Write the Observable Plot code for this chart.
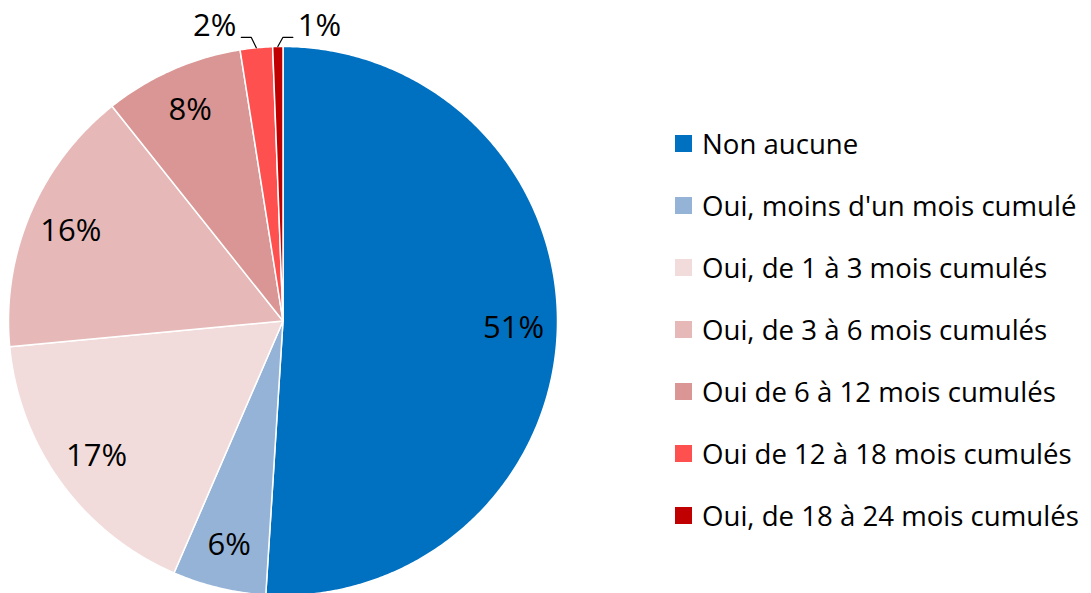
<!DOCTYPE html>
<html>
<head>
<meta charset="utf-8">
<script src="https://cdn.jsdelivr.net/npm/d3@7"></script>
<script src="https://cdn.jsdelivr.net/npm/@observablehq/plot@0.6"></script>
<style>
  html, body { margin: 0; padding: 0; background: #fff; overflow: hidden; }
  #wrap { position: relative; width: 1091px; height: 593px; }
  #legend { position: absolute; left: 675px; top: 112px; font-family: "Open Sans", sans-serif; font-size: 27.6px; color: #000; }
  #legend .row { display: flex; align-items: center; height: 62px; white-space: nowrap; }
  #legend .sw { width: 17px; height: 17px; margin-right: 10px; flex: none; }
</style>
</head>
<body>
<div id="wrap"><div id="chart"></div><div id="legend"></div></div>
<script>
const categories = [
  "Non aucune",
  "Oui, moins d'un mois cumulé",
  "Oui, de 1 à 3 mois cumulés",
  "Oui, de 3 à 6 mois cumulés",
  "Oui de 6 à 12 mois cumulés",
  "Oui de 12 à 18 mois cumulés",
  "Oui, de 18 à 24 mois cumulés"
];
const values = [51.0, 5.5, 17.0, 15.8, 8.2, 1.9, 0.6];
const labels = ["51%", "6%", "17%", "16%", "8%", "2%", "1%"];
const colors = ["#0070C0", "#95B3D7", "#F2DCDB", "#E6B9B8", "#D99694", "#FF5050", "#C00000"];

// layout
const W = 1091, H = 593;
const R = 274.5, CX = 282.5, CY = 320.5; // pixel layout of the pie
const px = 1 / R; // one pixel in data units

const total = d3.sum(values);
let acc = 0;
const slices = values.map((v, i) => {
  const a0 = acc / total * 2 * Math.PI;
  acc += v;
  const a1 = acc / total * 2 * Math.PI;
  return {key: categories[i], label: labels[i], value: v, a0, a1, mid: (a0 + a1) / 2};
});

// polygon points for each slice (centre + arc + centre)
const polyPts = [];
for (const s of slices) {
  const n = Math.max(2, Math.ceil((s.a1 - s.a0) / (Math.PI / 360)));
  polyPts.push({key: s.key, x: 0, y: 0});
  for (let k = 0; k <= n; k++) {
    const a = s.a0 + (s.a1 - s.a0) * k / n;
    polyPts.push({key: s.key, x: Math.sin(a), y: Math.cos(a)});
  }
  polyPts.push({key: s.key, x: 0, y: 0});
}

// labels
const inside = slices.filter(s => s.value >= 3);
const outside = slices.filter(s => s.value < 3);
const insideLabels = inside.map(s => ({label: s.label, x: 0.84 * Math.sin(s.mid), y: 0.84 * Math.cos(s.mid)}));
const leaderPts = [];
const outsideLabels = [];
outside.forEach((s, j) => {
  const side = j === 0 ? -1 : 1;
  const ax = Math.sin(s.mid), ay = Math.cos(s.mid);
  const ey = 1.033;
  const ex = ax + side * 5 * px;
  const hx = ex + side * 10 * px;
  leaderPts.push({key: s.key, x: ax, y: ay}, {key: s.key, x: ex, y: ey}, {key: s.key, x: hx, y: ey});
  outsideLabels.push({label: s.label, x: hx + side * 5 * px, y: ey + 11 * px, anchor: side < 0 ? "end" : "start"});
});

const font = "'Open Sans', sans-serif";
const chart = Plot.plot({
  width: W, height: H,
  margin: 0,
  x: {domain: [-CX / R, (W - CX) / R], axis: null},
  y: {domain: [-(H - CY) / R, CY / R], axis: null},
  color: {domain: categories, range: colors},
  style: {fontFamily: font, background: "white"},
  marks: [
    Plot.line(polyPts, {x: "x", y: "y", z: "key", fill: "key", stroke: "white", strokeWidth: 1.5, strokeLinejoin: "round"}),
    Plot.text(insideLabels, {x: "x", y: "y", text: "label", fontSize: 31, fill: "black"}),
    Plot.line(leaderPts, {x: "x", y: "y", z: "key", stroke: "black", strokeWidth: 1.2}),
    Plot.text(outsideLabels.filter(d => d.anchor === "end"), {x: "x", y: "y", text: "label", fontSize: 31, fill: "black", textAnchor: "end"}),
    Plot.text(outsideLabels.filter(d => d.anchor === "start"), {x: "x", y: "y", text: "label", fontSize: 31, fill: "black", textAnchor: "start"})
  ]
});
document.getElementById("chart").appendChild(chart);

const legend = d3.select("#legend");
categories.forEach((c, i) => {
  const row = legend.append("div").attr("class", "row");
  row.append("div").attr("class", "sw").style("background", colors[i]);
  row.append("span").text(c);
});
</script>
</body>
</html>
